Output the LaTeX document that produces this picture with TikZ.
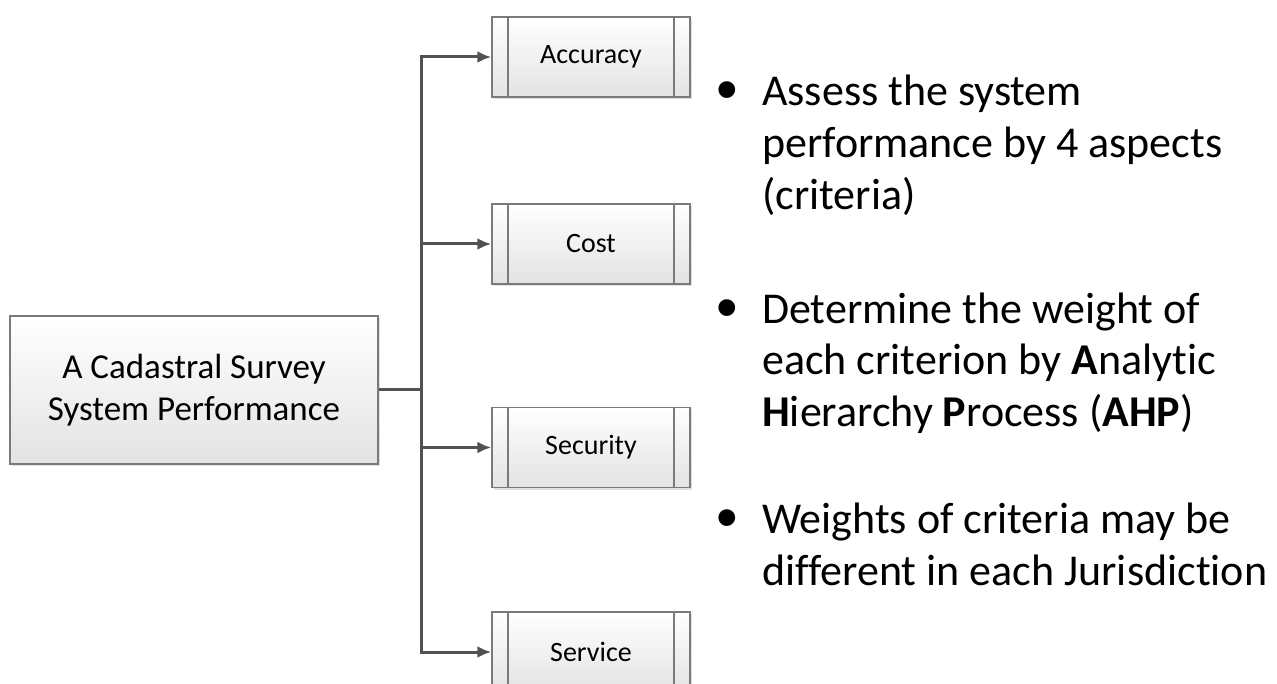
\documentclass[tikz,border=0pt]{standalone}
\usepackage{fontspec}
\setmainfont{Carlito}[Ligatures=NoCommon]
\newfontfamily\bulletfont{Liberation Sans}
\usepackage{tikz}
\usetikzlibrary{positioning, arrows.meta, shadows, calc}

\newcommand{\dotmark}{\llap{\raisebox{-5pt}{\scalebox{1.4}{\bulletfont •}}\hspace{24pt}}}

\tikzset{
  boxline/.style={draw=black!52, line width=1.5pt},
  shadebox/.style={boxline, top color=white, bottom color=black!11,
    drop shadow={shadow xshift=2pt, shadow yshift=-2pt, opacity=0.2, fill=black!60}},
  procbox/.style={shadebox, minimum width=198pt, minimum height=80pt, inner sep=0pt,
    font=\fontsize{28}{34}\selectfont,
    path picture={
      \draw[boxline] ([xshift=16pt]path picture bounding box.north west) -- ([xshift=16pt]path picture bounding box.south west);
      \draw[boxline] ([xshift=-16pt]path picture bounding box.north east) -- ([xshift=-16pt]path picture bounding box.south east);
    }},
  link/.style={draw=black!68, line width=3pt},
  linkto/.style={link, -{Latex[length=14pt, width=12pt]}},
  point/.style={anchor=base west, align=left, inner sep=0pt, font=\fontsize{44}{52}\selectfont}
}

\begin{document}
\begin{tikzpicture}[x=1pt, y=-1pt]
  \useasboundingbox (0,0) rectangle (1277,684);

  \node[shadebox, minimum width=368pt, minimum height=148pt, align=center,
    font=\fontsize{35}{42}\selectfont] (perf) at (194,390) {A Cadastral Survey\\System Performance};

  \node[procbox] (accuracy) at (591,57) {Accuracy};
  \node[procbox] (cost) at (591,244) {Cost};
  \node[procbox] (security) at (591,447.5) {Security};
  \node[procbox] (service) at (591,652) {Service};

  \coordinate (fork) at (421,390);
  \draw[link] (perf.east) -- (fork);
  \draw[linkto] (fork) |- (accuracy);
  \draw[linkto] (fork) |- (service);
  \draw[linkto] (fork |- cost) -- (cost);
  \draw[linkto] (fork |- security) -- (security);

  % the notes on the right
  \node[point] (assess) at (762,210) {\dotmark Assess the system\\performance by 4 aspects\\(criteria)};
  \node[point] (weight) at (762,427) {\dotmark Determine the weight of\\each criterion by \textbf{A}nalytic\\\textbf{H}ierarchy \textbf{P}rocess (\textbf{AHP})};
  \node[point] (juris) at (762,585) {\dotmark Weights of criteria may be\\different in each Jurisdiction};
\end{tikzpicture}
\end{document}
